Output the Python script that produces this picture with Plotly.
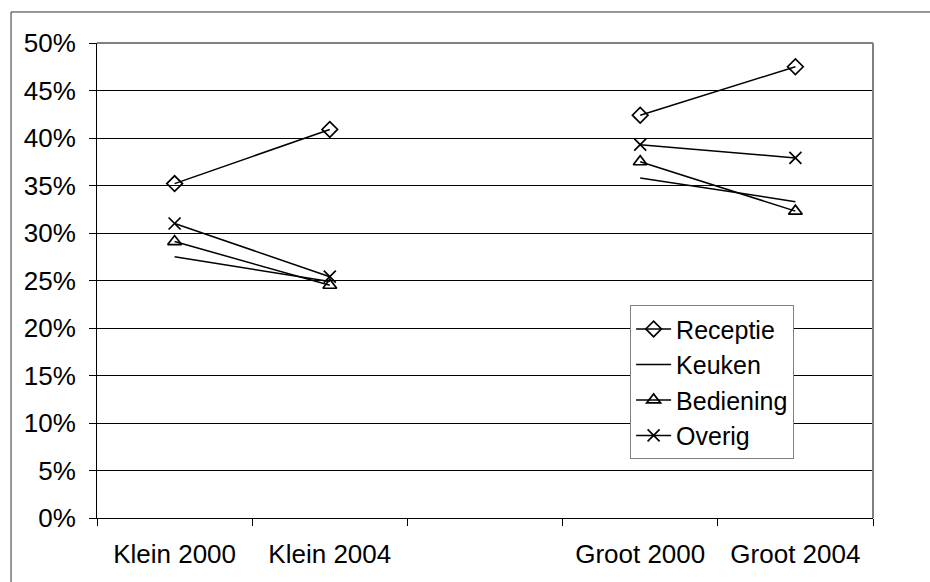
import plotly.graph_objects as go

categories = ["Klein 2000", "Klein 2004", " ", "Groot 2000", "Groot 2004"]
receptie = [0.352, 0.409, None, 0.424, 0.475]
keuken = [0.275, 0.249, None, 0.358, 0.333]
bediening = [0.291, 0.245, None, 0.375, 0.323]
overig = [0.310, 0.254, None, 0.393, 0.379]

FONT = "Arial, Liberation Sans, sans-serif"

fig = go.Figure()
series = [
    ("Receptie", receptie, "lines+markers", "diamond-open"),
    ("Keuken", keuken, "lines", None),
    ("Bediening", bediening, "lines+markers", "triangle-up-open"),
    ("Overig", overig, "lines+markers", "x-thin-open"),
]
for name, vals, mode, sym in series:
    kw = {}
    if sym:
        kw["marker"] = dict(symbol=sym, size=12, color="black",
                            line=dict(color="black", width=1.7))
    fig.add_trace(go.Scatter(x=categories, y=vals, name=name, mode=mode,
                             line=dict(color="black", width=1.5),
                             connectgaps=False, cliponaxis=False, **kw))

fig.update_layout(
    width=930, height=582,
    margin=dict(l=97, r=57, t=43, b=64),
    paper_bgcolor="white", plot_bgcolor="white",
    font=dict(family=FONT, size=26, color="black"),
    showlegend=True,
    legend=dict(x=0.687, y=0.448, xanchor="left", yanchor="top",
                bordercolor="#808080", borderwidth=1, bgcolor="white",
                font=dict(size=25), tracegroupgap=0, itemwidth=35),
    xaxis=dict(type="category", categoryorder="array", categoryarray=categories,
               range=[-0.5, 4.5], tickson="boundaries", ticks="outside",
               ticklen=7, tickcolor="black", showline=True, linecolor="black",
               linewidth=1, showgrid=False, zeroline=False,
               ticklabelstandoff=13, tickfont=dict(size=26)),
    yaxis=dict(range=[0, 0.5], dtick=0.05, tickformat=".0%", ticks="outside",
               ticklen=7, tickcolor="black", showline=True, linecolor="black",
               linewidth=1, showgrid=True, gridcolor="black", gridwidth=1,
               zeroline=False, ticklabelstandoff=8, tickfont=dict(size=26)),
    shapes=[
        dict(type="line", xref="paper", yref="paper", x0=0, x1=1, y0=1, y1=1,
             line=dict(color="#808080", width=2), layer="above"),
        dict(type="line", xref="paper", yref="paper", x0=1, x1=1, y0=0, y1=1,
             line=dict(color="#808080", width=2), layer="above"),
        dict(type="rect", xref="paper", yref="paper", x0=-0.1108, x1=1.2,
             y0=-0.5, y1=1.0653, line=dict(color="#303030", width=1),
             layer="below"),
    ],
)

fig.write_html("out.html")
